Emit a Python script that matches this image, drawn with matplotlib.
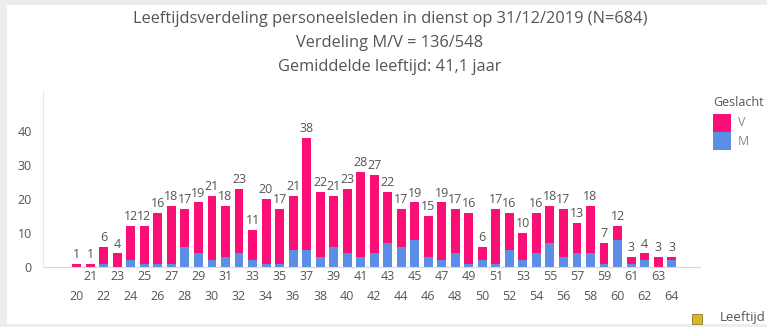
import matplotlib
matplotlib.use("Agg")
import matplotlib.pyplot as plt
from matplotlib.patches import Rectangle

plt.rcParams['font.family'] = ['Open Sans', 'DejaVu Sans']

# leeftijden en aantallen per geslacht
leeftijd = list(range(20, 65))
totaal = [1, 1, 6, 4, 12, 12, 16, 18, 17, 19, 21, 18, 23, 11, 20,
          17, 21, 38, 22, 21, 23, 28, 27, 22, 17, 19, 15, 19, 17, 16,
          6, 17, 16, 10, 16, 18, 17, 13, 18, 7, 12, 3, 4, 3, 3]
man = [0, 0, 1, 0, 2, 1, 1, 1, 6, 4, 2, 3, 4, 2, 1,
       1, 5, 5, 3, 6, 4, 3, 4, 7, 6, 8, 3, 2, 4, 1,
       2, 1, 5, 2, 4, 7, 3, 4, 4, 1, 8, 1, 2, 0, 2]
vrouw = [t - m for t, m in zip(totaal, man)]
y_ticks = [0, 10, 20, 30, 40]

titel = ["Leeftijdsverdeling personeelsleden in dienst op 31/12/2019 (N=684)",
         "Verdeling M/V = 136/548",
         "Gemiddelde leeftijd: 41,1 jaar"]

kleur_v = "#fb0f77"
kleur_m = "#5b8fe6"
tekst = "#555555"

W, H = 767, 327


def fx(px):
    return px / W


def fy(py):
    return 1 - py / H


fig = plt.figure(figsize=(7.67, 3.27), dpi=100, facecolor="#eceeec")
# witte achtergrond van het paneel
fig.patches.append(Rectangle((fx(7), fy(324)), fx(760), 319 / H,
                             transform=fig.transFigure, facecolor="white",
                             edgecolor="none", zorder=-5))

ax = fig.add_axes([fx(43), fy(267), fx(657), 177 / H])
ax.set_facecolor("none")
ax.bar(leeftijd, man, width=0.66, color=kleur_m, zorder=2)
ax.bar(leeftijd, vrouw, width=0.66, bottom=man, color=kleur_v, zorder=2)

for x, t in zip(leeftijd, totaal):
    ax.text(x, t + 0.8, str(t), ha="center", va="bottom",
            fontsize=9, color=tekst)

ax.set_xlim(17.5, 66.1)
ax.set_ylim(0, 52)
ax.set_yticks(y_ticks)
ax.set_yticklabels([str(v) for v in y_ticks], fontsize=9, color=tekst)
ax.set_xticks(leeftijd)
ax.set_xticklabels([str(a) if a % 2 else "\n" + str(a) for a in leeftijd],
                   fontsize=9, color=tekst, linespacing=1.7)
ax.tick_params(axis="both", length=0)
ax.tick_params(axis="x", pad=2)
ax.tick_params(axis="y", pad=8)

for s in ["top", "right"]:
    ax.spines[s].set_visible(False)
ax.spines["left"].set_color("#ebebeb")
ax.spines["bottom"].set_color("#d8d8d8")

# titel in drie regels
for i, regel in enumerate(titel):
    fig.text(fx(390), fy(19 + i * 24), regel, ha="center",
             va="center", fontsize=11.8, color=tekst)

# legenda
fig.text(fx(713), fy(102), "Geslacht", ha="left", va="center",
         fontsize=9, color=tekst)
for i, (lab, kl) in enumerate([("V", kleur_v), ("M", kleur_m)]):
    top = 114 + i * 18
    fig.patches.append(Rectangle((fx(713), fy(top + 18)), fx(18), 18 / H,
                                 transform=fig.transFigure, facecolor=kl,
                                 edgecolor="none"))
    fig.text(fx(738), fy(top + 9), lab, ha="left", va="center",
             fontsize=9, color="#888888")

# as-label rechtsonder met icoontje
fig.patches.append(Rectangle((fx(692), fy(324)), fx(10), 10 / H,
                             transform=fig.transFigure, facecolor="#d9b62a",
                             edgecolor="#8a7a30", lw=0.6, zorder=3))
fig.text(fx(720), fy(318), "Leeftijd", ha="left", va="center",
         fontsize=9.5, color=tekst)

fig.savefig("out.png", dpi=100, facecolor=fig.get_facecolor())
